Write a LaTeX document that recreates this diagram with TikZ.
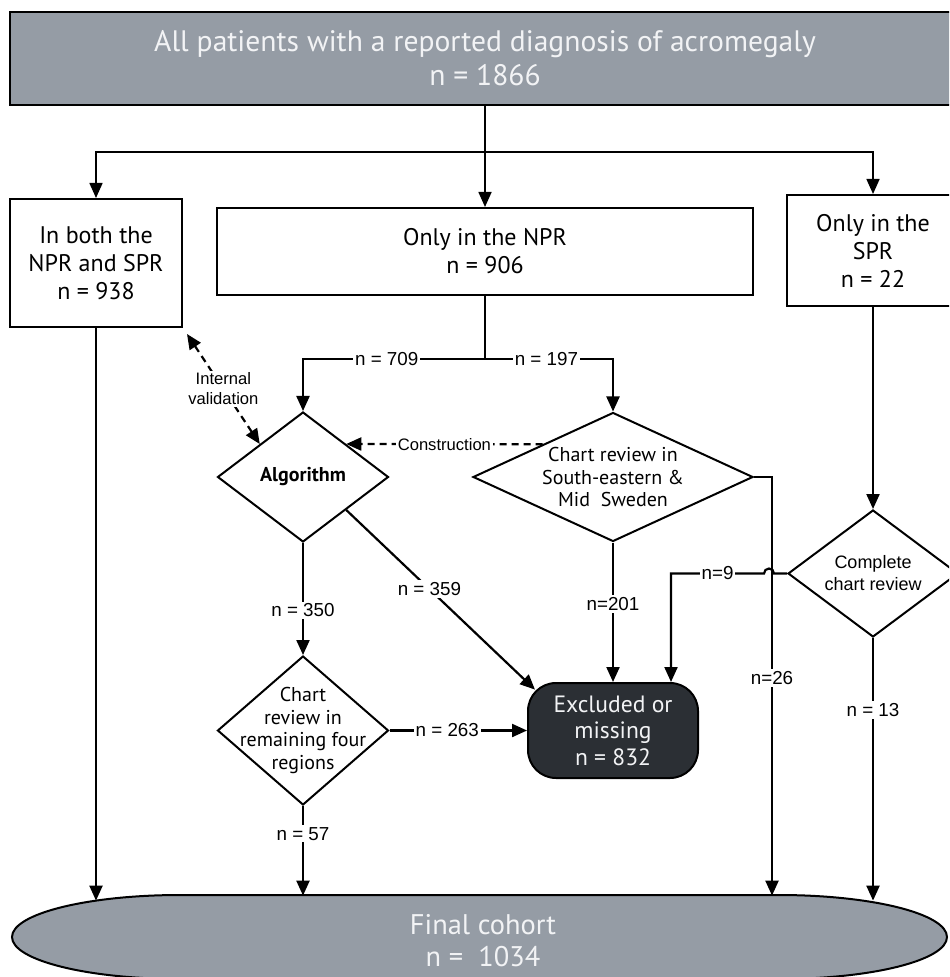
\documentclass[tikz,border=0pt]{standalone}
\usepackage{fontspec}
\setmainfont{PT Sans}
\newfontfamily\arialfont{Liberation Sans}
\usetikzlibrary{shapes.geometric,arrows.meta}
\definecolor{boxgray}{HTML}{959CA5}
\definecolor{boxdark}{HTML}{2B2F34}
\definecolor{boxtext}{HTML}{F2F3F5}

\begin{document}
\begin{tikzpicture}[
    x=0.5pt, y=-0.5pt,
    line/.style={line width=1.1pt, black},
    thinline/.style={line width=0.8pt, black},
    tip/.style={-{Triangle[length=7.5pt,width=6.5pt]}},
    arr/.style={line, tip},
    dsh/.style={line, dash pattern=on 3.5pt off 2.5pt},
    box/.style={draw, line width=1pt, align=center, inner sep=0pt,
      font=\fontsize{12}{14}\selectfont},
    decision/.style={diamond, draw, line width=1pt, inner sep=0pt},
    dtext/.style={align=center, font=\fontsize{10}{11.2}\selectfont},
    lbl/.style={fill=white, inner sep=1pt, align=center,
      font=\arialfont\fontsize{9.4}{11}\selectfont},
    small/.style={font=\arialfont\fontsize{8.3}{10}\selectfont}
    %   box/.style={rounded corners, top color=white, bottom color=gray!20}
   ]
   \useasboundingbox (0,0) rectangle (949,977);
   \fill[white] (0,0) rectangle (949,977);
   \clip (0,0) rectangle (949,977);

   \node[box, fill=boxgray, text=boxtext, line width=1.2pt, minimum width=475pt, minimum height=46.5pt,
     font=\fontsize{14.8}{17}\selectfont] (all) at (485,58.5)
     {All patients with a reported diagnosis of acromegaly\\n = 1866};
   \node[box, minimum width=86pt, minimum height=64pt] (both) at (96,263) {In both the\\NPR and SPR\\n = 938};
   \node[box, minimum width=268pt, minimum height=43.5pt] (npr) at (485,251.5) {Only in the NPR\\n = 906};
   \node[box, minimum width=86pt, minimum height=55.5pt] (spr) at (873,250.5) {Only in the\\SPR\\n = 22};

   \node[decision, minimum width=85.5pt, minimum height=65pt,
     label={[dtext, font=\bfseries\fontsize{10}{12}\selectfont]center:Algorithm}] (alg) at (303,477) {};
   \node[decision, minimum width=140pt, minimum height=64.5pt,
     label={[dtext]center:{Chart review in\\South-eastern \&\\Mid~ Sweden}}] (south) at (613,477) {};
   \node[decision, minimum width=85.5pt, minimum height=74.5pt,
     label={[dtext]center:{Chart\\review in\\remaining four\\regions}}] (four) at (303,730.5) {};
   \node[decision, minimum width=85pt, minimum height=63.5pt,
     label={[dtext, font=\arialfont\fontsize{9}{11}\selectfont]center:{Complete\\chart review}}] (cmp) at (873,573.5) {};

   \node[box, fill=boxdark, draw=black, text=boxtext, rounded corners=14pt, minimum width=85pt, minimum height=47.5pt,
     font=\fontsize{11.8}{13.25}\selectfont] (excl) at (613,730.5) {Excluded or\\missing\\n = 832};

   % final cohort
   \draw[fill=boxgray, line width=1pt] (180,895) -- (779,895)
     arc[start angle=-90, end angle=90, x radius=168, y radius=42] -- (180,979)
     arc[start angle=90, end angle=270, x radius=168, y radius=42] -- cycle;
   \node[text=boxtext, align=center, inner sep=0pt, minimum width=400pt, minimum height=45pt,
     font=\fontsize{14.2}{16}\selectfont] (final) at (483,941) {Final cohort\\n = \ 1034};

   \coordinate (split) at (485,152);
   \coordinate (fork) at (485,359);

   \draw[thinline, tip] (all.south) -- (npr.north);
   \draw[thinline, tip] (split) -| (both.north);
   \draw[thinline, tip] (split) -| (spr.north);
   \draw[line] (npr.south) -- (fork);
   \draw[arr] (fork) -| node[lbl, pos=0.27]{n = 709} (alg.north);
   \draw[arr] (fork) -| node[lbl, pos=0.24]{n = 197} (south.north);
   \draw[dsh, {Triangle[length=7.5pt,width=6.5pt]}-{Triangle[length=7.5pt,width=6.5pt]}]
     ([shift={(4,6)}]both.south east) -- node[lbl, small]{Internal\\validation} (alg.north west);
   \draw[dsh, tip] (south.north west) -- node[lbl, small]{Construction} (alg.north east);
   \draw[arr] (alg.south) -- node[lbl, pos=0.6]{n = 350} (four.north);
   \draw[arr, shorten >=-5.5pt] (alg.south east) -- node[lbl, pos=0.46]{n = 359} (excl.north west);
   \draw[arr] (four.east) -- node[lbl, pos=0.42]{n = 263} (excl.west);
   \draw[arr] (four.south) -- node[lbl, pos=0.31]{n = 57} (four.south |- final.north);
   \draw[arr] (south.south) -- node[lbl, pos=0.44]{n=201} (excl.north);
   \draw[arr] (south.east) -| node[lbl, pos=0.74]{n=26} ([xshift=9pt]south.east |- final.north);
   \draw[arr] (spr.south) -- (cmp.north);
   \draw[arr] (cmp.west) -- ++(-13,0) arc[start angle=0, end angle=-180, radius=5]
     -- node[lbl]{n=9} ([xshift=29pt]excl.north |- cmp.west) -- ([xshift=29pt]excl.north);
   \draw[arr, shorten >=-2.5pt] (cmp.south) -- node[lbl, pos=0.28]{n = 13} (cmp.south |- final.north);
   \draw[arr, shorten >=-2.5pt] (both.south) -- (both.south |- final.north);
  \end{tikzpicture}
\end{document}
